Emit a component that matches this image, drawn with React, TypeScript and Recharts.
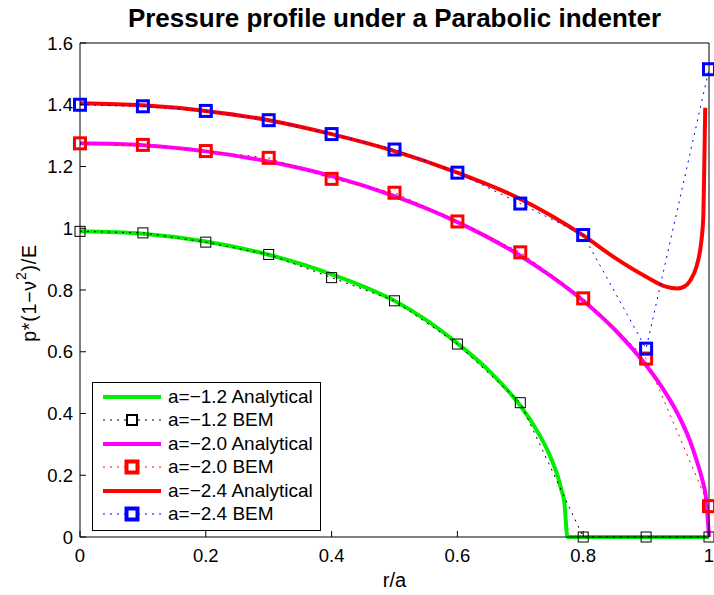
import React from 'react';
import {
  LineChart,
  Line,
  XAxis,
  YAxis,
  Legend,
} from 'recharts';

const FONT = '"Liberation Sans", Arial, Helvetica, sans-serif';

// BEM sample points (r/a)
const R_BEM = [0, 0.1, 0.2, 0.3, 0.4, 0.5, 0.6, 0.7, 0.8, 0.9, 1.0];
const BEM_12 = [0.99, 0.985, 0.955, 0.915, 0.84, 0.765, 0.625, 0.435, 0, 0, 0];
const BEM_20 = [1.275, 1.27, 1.25, 1.228, 1.16, 1.115, 1.022, 0.922, 0.773, 0.578, 0.1];
const BEM_24 = [1.4, 1.395, 1.38, 1.35, 1.305, 1.255, 1.18, 1.08, 0.978, 0.61, 1.515];

// analytical curves
const R_ANA_12 = [0, 0.1, 0.2, 0.3, 0.4, 0.5, 0.55, 0.6, 0.65, 0.7, 0.72, 0.74, 0.75, 0.76, 0.765, 0.77, 0.775, 0.8, 0.9, 1.0];
const ANA_12 = [0.99, 0.982, 0.957, 0.914, 0.851, 0.765, 0.703, 0.627, 0.539, 0.425, 0.366, 0.294, 0.249, 0.194, 0.155, 0.113, 0, 0, 0, 0];

const R_ANA_20 = [0, 0.1, 0.2, 0.3, 0.4, 0.5, 0.6, 0.7, 0.75, 0.8, 0.85, 0.9, 0.93, 0.95, 0.97, 0.98, 0.99, 0.995, 1.0];
const ANA_20 = [1.275, 1.269, 1.249, 1.216, 1.169, 1.104, 1.02, 0.911, 0.843, 0.765, 0.672, 0.556, 0.47, 0.4, 0.31, 0.25, 0.18, 0.13, 0];

const R_ANA_24 = [0, 0.1, 0.2, 0.3, 0.4, 0.5, 0.6, 0.7, 0.75, 0.8, 0.85, 0.9, 0.93, 0.95, 0.96, 0.97, 0.98, 0.986, 0.989, 0.991, 0.9925, 0.994];
const ANA_24 = [1.405, 1.398, 1.38, 1.35, 1.305, 1.25, 1.18, 1.095, 1.04, 0.977, 0.905, 0.843, 0.812, 0.805, 0.81, 0.83, 0.875, 0.93, 0.98, 1.04, 1.2, 1.39];

const X_TICKS = [0, 0.2, 0.4, 0.6, 0.8, 1];
const Y_TICKS = [0, 0.2, 0.4, 0.6, 0.8, 1, 1.2, 1.4, 1.6];

const toRows = (r: number[], p: number[]) => r.map((x, i) => ({ r: x, p: p[i] }));

interface SeriesDef {
  name: string;
  color: string;
  rows: { r: number; p: number }[];
  analytical: boolean;
  marker?: { size: number; width: number };
}

const SERIES: SeriesDef[] = [
  { name: 'a=\u22121.2 Analytical', color: '#00ee00', rows: toRows(R_ANA_12, ANA_12), analytical: true },
  { name: 'a=\u22121.2 BEM', color: '#000000', rows: toRows(R_BEM, BEM_12), analytical: false, marker: { size: 10, width: 1 } },
  { name: 'a=\u22122.0 Analytical', color: '#ff00ff', rows: toRows(R_ANA_20, ANA_20), analytical: true },
  { name: 'a=\u22122.0 BEM', color: '#ff0000', rows: toRows(R_BEM, BEM_20), analytical: false, marker: { size: 11, width: 3 } },
  { name: 'a=\u22122.4 Analytical', color: '#ff0000', rows: toRows(R_ANA_24, ANA_24), analytical: true },
  { name: 'a=\u22122.4 BEM', color: '#0000ff', rows: toRows(R_BEM, BEM_24), analytical: false, marker: { size: 11, width: 3 } },
];

const squareDot = (color: string, size: number, width: number) => (props: any) => {
  const { cx, cy, index } = props;
  if (cx == null || cy == null) return <g key={index} />;
  return (
    <rect
      key={index}
      x={cx - size / 2}
      y={cy - size / 2}
      width={size}
      height={size}
      fill="none"
      stroke={color}
      strokeWidth={width}
    />
  );
};

const LegendBox = () => (
  <div
    style={{
      boxSizing: 'border-box',
      border: '1px solid #000',
      background: '#fff',
      padding: '2px 0 0 8px',
      fontFamily: FONT,
      fontSize: 19,
      width: 229,
      height: 149,
    }}
  >
    {SERIES.map((s) => (
      <div key={s.name} style={{ display: 'flex', alignItems: 'center', height: 23.5 }}>
        <svg width={62} height={16} style={{ marginRight: 5, flexShrink: 0 }}>
          <line
            x1={2}
            y1={8}
            x2={60}
            y2={8}
            stroke={s.color}
            strokeWidth={s.analytical ? 4 : 1}
            strokeDasharray={s.analytical ? undefined : '2 5'}
          />
          {s.marker && (
            <rect
              x={31 - s.marker.size / 2}
              y={8 - s.marker.size / 2}
              width={s.marker.size}
              height={s.marker.size}
              fill="#fff"
              stroke={s.color}
              strokeWidth={s.marker.width + 1}
            />
          )}
        </svg>
        <span style={{ whiteSpace: 'nowrap' }}>{s.name}</span>
      </div>
    ))}
  </div>
);

const YLabel = () => (
  <text
    x={29}
    y={293}
    transform="rotate(-90, 29, 293)"
    textAnchor="middle"
    dominantBaseline="central"
    fontSize={19.5}
    letterSpacing={0.8}
    fontFamily={FONT}
    fill="#000"
  >
    p*(1{'\u2212'}{'\u03bd'}
    <tspan dy={-8} fontSize={14}>2</tspan>
    <tspan dy={8}>)/E</tspan>
  </text>
);

const tickStyle = { fontSize: 18.5, fill: '#000', fontFamily: FONT };
const blank = () => '';

export default function App() {
  return (
    <div style={{ position: 'absolute', left: 0, top: 0, width: 714, height: 595, background: '#fff' }}>
      <div
        style={{
          position: 'absolute',
          left: 80,
          top: 3,
          width: 629,
          textAlign: 'center',
          fontFamily: FONT,
          fontWeight: 'bold',
          fontSize: 26,
          lineHeight: '30px',
          whiteSpace: 'nowrap',
        }}
      >
        Pressure profile under a Parabolic indenter
      </div>
      <LineChart width={714} height={595} margin={{ top: 42, right: 4, bottom: 0, left: 0 }}>
        <XAxis
          dataKey="r"
          type="number"
          domain={[0, 1]}
          ticks={X_TICKS}
          height={58}
          stroke="#000"
          tick={tickStyle}
          tickSize={-6}
          tickMargin={18}
          allowDuplicatedCategory={false}
          label={{ value: 'r/a', position: 'insideBottom', offset: 8, fontSize: 20, fill: '#000', fontFamily: FONT }}
        />
        <XAxis
          xAxisId="top"
          orientation="top"
          type="number"
          domain={[0, 1]}
          ticks={X_TICKS}
          height={1}
          stroke="#000"
          tickSize={-6}
          tickFormatter={blank}
        />
        <YAxis
          type="number"
          domain={[0, 1.6]}
          ticks={Y_TICKS}
          width={80}
          stroke="#000"
          tick={tickStyle}
          tickSize={-6}
          tickMargin={13}
          label={<YLabel />}
        />
        <YAxis
          yAxisId="right"
          orientation="right"
          type="number"
          domain={[0, 1.6]}
          ticks={Y_TICKS}
          width={1}
          stroke="#000"
          tickSize={-6}
          tickFormatter={blank}
        />
        {SERIES.map((s) =>
          s.analytical ? (
            <Line
              key={s.name}
              data={s.rows}
              dataKey="p"
              type="monotone"
              stroke={s.color}
              strokeWidth={4}
              dot={false}
              activeDot={false}
              isAnimationActive={false}
            />
          ) : (
            <Line
              key={s.name}
              data={s.rows}
              dataKey="p"
              type="linear"
              stroke={s.color}
              strokeWidth={1}
              strokeDasharray="2 5"
              dot={squareDot(s.color, s.marker!.size, s.marker!.width)}
              activeDot={false}
              isAnimationActive={false}
            />
          )
        )}
        <Legend
          layout="horizontal"
          verticalAlign="middle"
          align="center"
          content={<LegendBox />}
          wrapperStyle={{ left: 92, top: 382, width: 'auto', height: 'auto' }}
        />
      </LineChart>
    </div>
  );
}
